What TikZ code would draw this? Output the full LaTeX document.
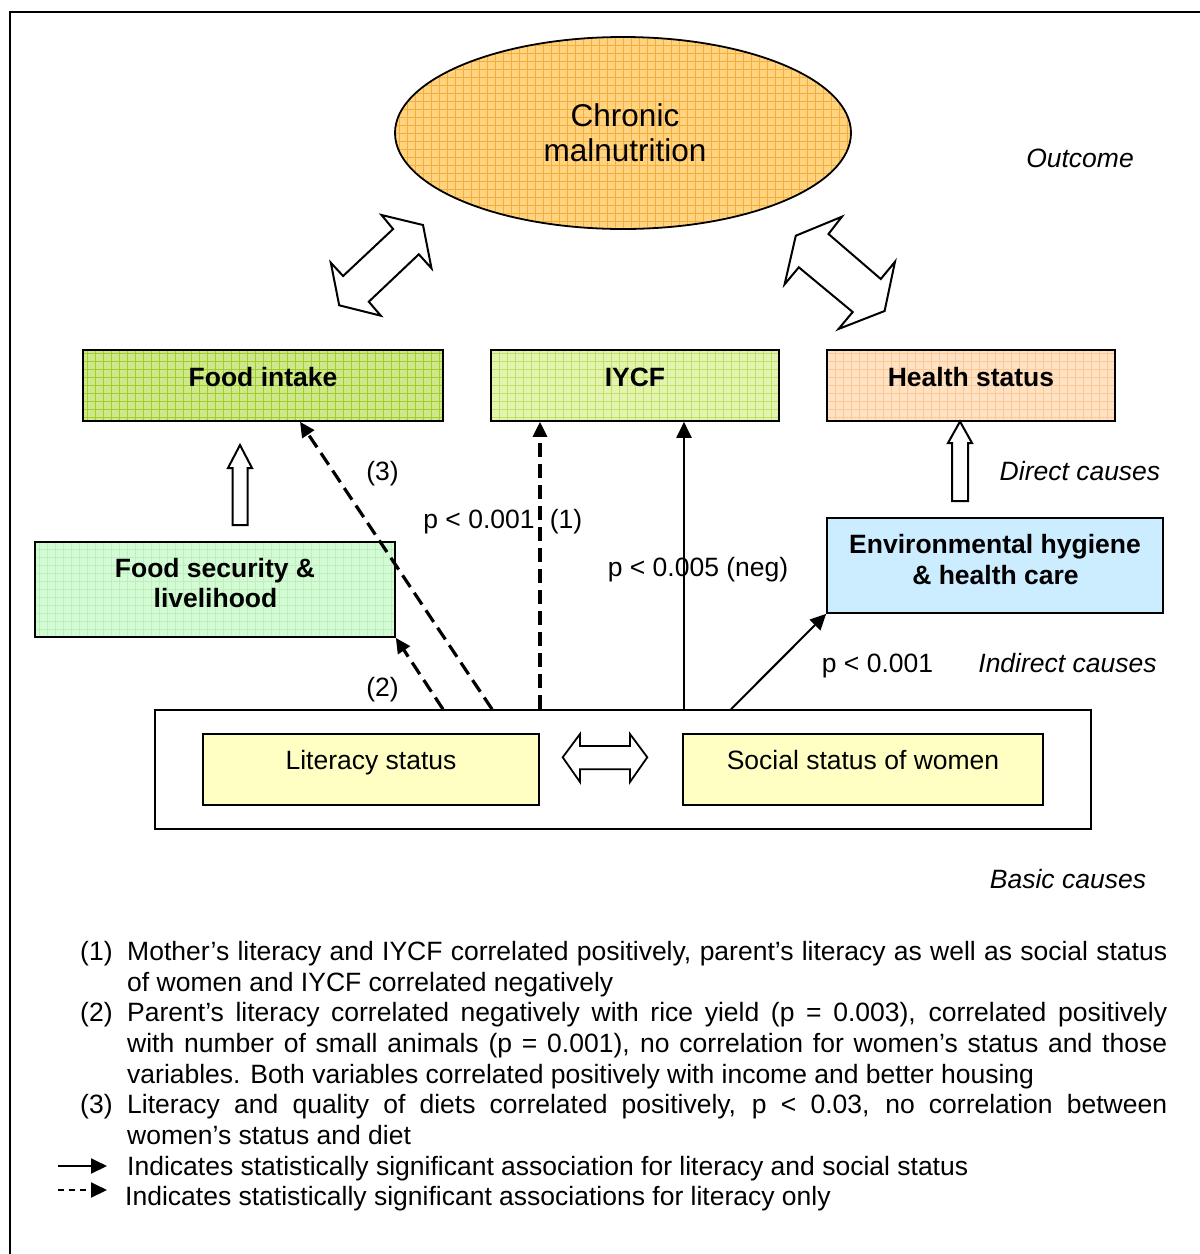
\documentclass[tikz,border=0pt]{standalone}
\usepackage{fontspec}
\setmainfont{Liberation Sans}
\usetikzlibrary{arrows.meta,shapes.geometric}
\definecolor{ellfill}{RGB}{255,212,128}
\definecolor{ellgrid}{RGB}{247,172,60}
\definecolor{fifill}{RGB}{208,232,140}
\definecolor{figrid}{RGB}{160,205,40}
\definecolor{iyfill}{RGB}{226,244,176}
\definecolor{iygrid}{RGB}{190,225,100}
\definecolor{hsfill}{RGB}{255,226,196}
\definecolor{hsgrid}{RGB}{252,200,150}
\definecolor{fsfill}{RGB}{212,252,212}
\definecolor{fsgrid}{RGB}{190,238,190}
\definecolor{envfill}{RGB}{204,236,255}
\definecolor{litfill}{RGB}{255,255,196}
\begin{document}
\begin{tikzpicture}[x=1pt,y=-1pt,
  txt/.style={font=\fontsize{26.5}{30.7}\selectfont, inner sep=0pt, anchor=base},
  btxt/.style={font=\fontsize{26.5}{30.7}\selectfont\bfseries, inner sep=0pt, anchor=base},
  itxt/.style={font=\fontsize{26.5}{30.7}\selectfont\itshape, inner sep=0pt, anchor=base},
  ltxt/.style={font=\fontsize{26.5}{30.7}\selectfont, inner sep=0pt, anchor=base west},
  box/.style={draw=black, line width=1.6pt, inner sep=0pt},
  gridfill/.style 2 args={fill=#1, path picture={\draw[#2, line width=0.7pt, step=8pt]
     (path picture bounding box.south west) grid (path picture bounding box.north east);}},
  blockarrow/.style={draw=black, line width=2pt, fill=white, line join=miter},
  conn/.style={line width=2pt, -{Triangle[length=16pt,width=15pt]}},
  dconn/.style={line width=3.2pt, dash pattern=on 14pt off 7pt, -{Triangle[length=15pt,width=14pt]}},
]
\useasboundingbox (0,0) rectangle (1200,1254);
% outer frame
\draw[line width=2pt] (10,1260) -- (10,12) -- (1206,12);

% outcome ellipse
\node[ellipse, box, line width=1.8pt, minimum width=456pt, minimum height=192pt,
      gridfill={ellfill}{ellgrid}] (cm) at (623,133) {};
\node[font=\fontsize{31.5}{35}\selectfont, inner sep=0pt, anchor=base] (cmA) at (625,126) {Chronic};
\node[font=\fontsize{31.5}{35}\selectfont, inner sep=0pt, anchor=base] (cmB) at (625,161) {malnutrition};
\node[itxt] (outc) at (1080,167.5) {Outcome};

% block double arrows to the ellipse
\draw[blockarrow] (381.5,215) -- (423,225) -- (431.5,268.3) -- (418.8,254.3) -- (368.8,301.7)
  -- (380.8,315.7) -- (339.2,305.3) -- (330.8,262.7) -- (343.1,276) -- (393.1,229) -- cycle;
\draw[blockarrow] (841.9,216.7) -- (795.8,235.7) -- (784.6,284.3) -- (798.8,267.3) -- (852.7,312)
  -- (838.5,329) -- (884.6,311) -- (895,261.7) -- (880.8,279) -- (828.5,234) -- cycle;

% direct causes
\node[box, minimum width=360pt, minimum height=71pt, gridfill={fifill}{figrid}] (fi) at (263,385.5) {};
\node[btxt] (fiT) at (263,386.5) {Food intake};
\node[box, minimum width=288pt, minimum height=71pt, gridfill={iyfill}{iygrid}] (iy) at (635,385.5) {};
\node[btxt] (iyT) at (635,386.5) {IYCF};
\node[box, minimum width=288pt, minimum height=71pt, gridfill={hsfill}{hsgrid}] (hs) at (971,385.5) {};
\node[btxt] (hsT) at (971,386.5) {Health status};
\node[itxt] (dc) at (1080,480.5) {Direct causes};

% indirect causes
\node[box, minimum width=360pt, minimum height=95pt, gridfill={fsfill}{fsgrid}] (fs) at (215,589.5) {};
\node[btxt] (fsA) at (215,577.5) {Food security \&};
\node[btxt] (fsB) at (215.5,607.5) {livelihood};
\node[box, minimum width=336pt, minimum height=95pt, fill=envfill] (env) at (995,565.5) {};
\node[btxt] (envA) at (995,553.5) {Environmental hygiene};
\node[btxt] (envB) at (995.5,584.5) {\& health care};
\node[itxt] (ic) at (1067.5,672.5) {Indirect causes};

% hollow up arrows
\draw[blockarrow] (240,445) -- (252,468) -- (247.5,468) -- (247.5,525) -- (232.5,525)
  -- (232.5,468) -- (228,468) -- cycle;
\draw[blockarrow] (960,421.5) -- (972,443) -- (968,443) -- (968,501) -- (952,501)
  -- (952,443) -- (948,443) -- cycle;

% basic causes
\node[box, minimum width=936pt, minimum height=119pt, fill=white] (basic) at (623,769.5) {};
\node[box, line width=1.4pt, minimum width=336pt, minimum height=71pt, fill=litfill] (lit) at (371,769.5) {};
\node[txt] (litT) at (371,769.5) {Literacy status};
\node[box, line width=1.4pt, minimum width=360pt, minimum height=71pt, fill=litfill] (soc) at (863,769.5) {};
\node[txt] (socT) at (863,769.5) {Social status of women};
\draw[blockarrow, line width=1.8pt] (562.7,757.3) -- (580,734) -- (580,746) -- (630,746) -- (630,734)
  -- (647.3,757.3) -- (630,782) -- (630,769.3) -- (580,769.3) -- (580,782) -- cycle;
\node[itxt] (bc) at (1068,888.5) {Basic causes};

% labels of connectors
\node[txt] (l3) at (382.5,480) {(3)};
\node[txt] (l2) at (382.5,696) {(2)};
\node[txt] (p1) at (479,528.5) {p < 0.001};
\node[txt] (l1) at (566,528.5) {(1)};
\node[txt] (p2) at (698,576.5) {p < 0.005 (neg)};
\node[txt] (p3) at (877.5,672.5) {p < 0.001};

% connectors
\draw[dconn] ([xshift=-131pt]basic.north) -- ([xshift=37pt]fi.south);
\draw[dconn] ([xshift=-180pt]basic.north) -- (fs.south east);
\draw[dconn] ([xshift=-83pt]basic.north) -- ([xshift=-95pt]iy.south);
\draw[conn] ([xshift=61pt]basic.north) -- ([xshift=49pt]iy.south);
\draw[conn] ([xshift=108pt]basic.north) -- (env.south west);

% notes
\node[ltxt] (n1) at (80,960.5) {(1)};
\node[ltxt] (n1a) at (127,960.5) {\makebox[1040pt][s]{Mother’s literacy and IYCF correlated positively, parent’s literacy as well as social status}};
\node[ltxt] (n1b) at (127,991.5) {of women and IYCF correlated negatively};
\node[ltxt] (n2) at (80,1021.5) {(2)};
\node[ltxt] (n2a) at (127,1021.5) {\makebox[1040pt][s]{Parent’s literacy correlated negatively with rice yield (p = 0.003), correlated positively}};
\node[ltxt] (n2b) at (127,1052.5) {\makebox[1040pt][s]{with number of small animals (p = 0.001), no correlation for women’s status and those}};
\node[ltxt] (n2c) at (127,1083.5) {variables. Both variables correlated positively with income and better housing};
\node[ltxt] (n3) at (80,1113.5) {(3)};
\node[ltxt] (n3a) at (127,1113.5) {\makebox[1040pt][s]{Literacy and quality of diets correlated positively, p < 0.03, no correlation between}};
\node[ltxt] (n3b) at (127,1144.5) {women’s status and diet};
\coordinate (s1) at (58,1166);
\coordinate (e1) at (107,1166);
\coordinate (s2) at (58,1190);
\coordinate (e2) at (107,1190);
\draw[conn] (s1) -- (e1);
\draw[line width=2pt, dash pattern=on 6pt off 5pt, -{Triangle[length=16pt,width=15pt]}] (s2) -- (e2);
\node[ltxt] (k1) at (127,1175.5) {Indicates statistically significant association for literacy and social status};
\node[ltxt] (k2) at (125,1205.5) {Indicates statistically significant associations for literacy only};
\end{tikzpicture}
\end{document}
